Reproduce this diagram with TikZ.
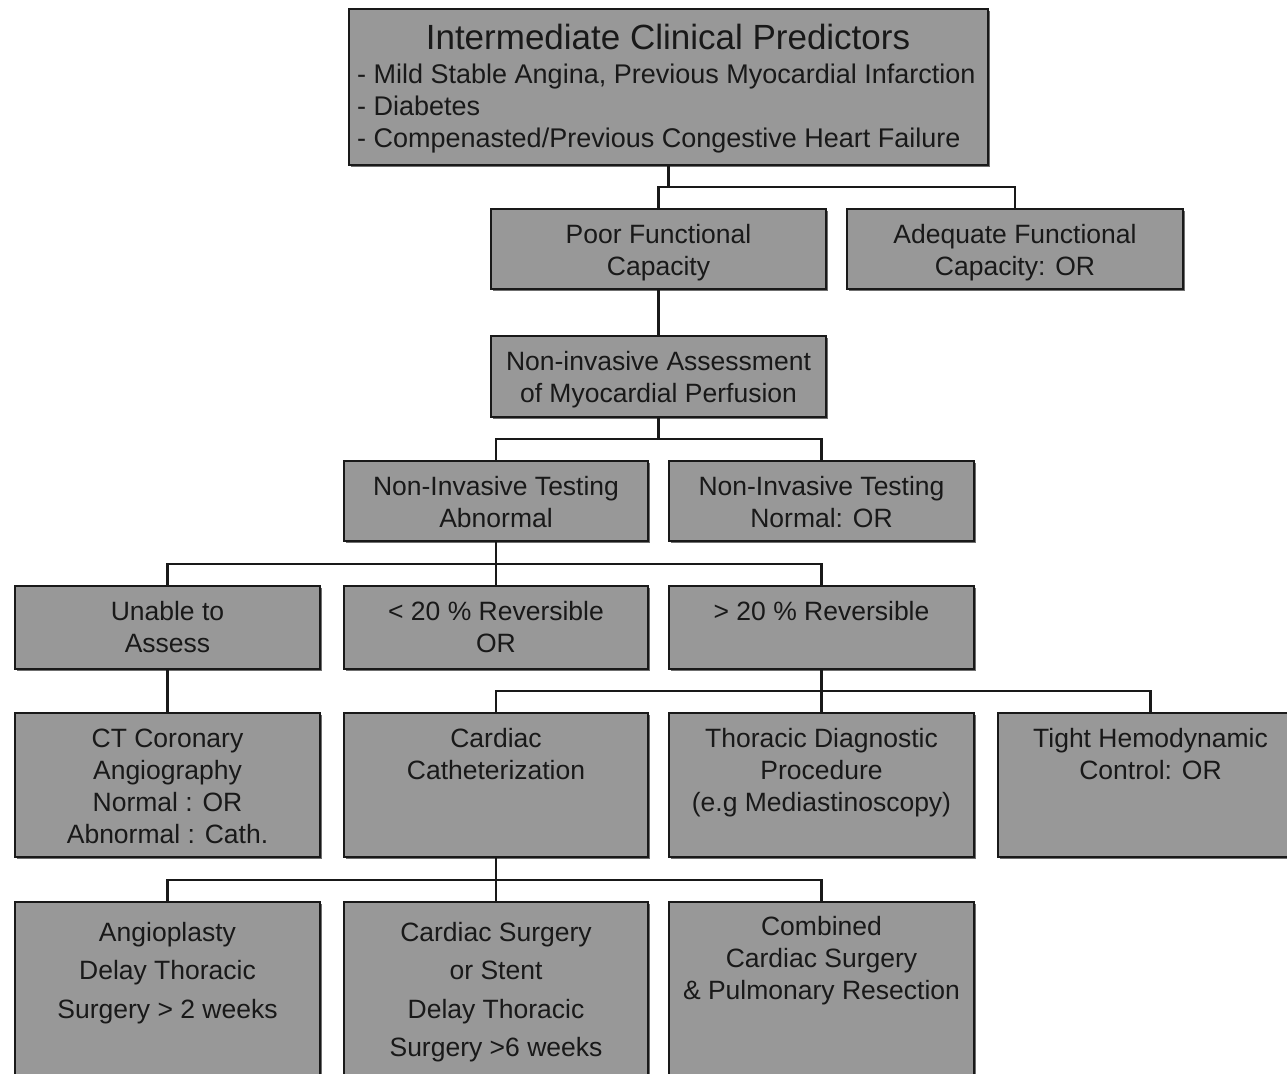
\documentclass[tikz,border=0pt]{standalone}
\usepackage{fontspec}
\setmainfont{Liberation Sans}
\usetikzlibrary{shadows}
\definecolor{boxgrey}{RGB}{152,152,152}
\definecolor{inkc}{RGB}{25,25,25}
\begin{document}
\begin{tikzpicture}[x=1pt,y=-1pt,
  box/.style={draw=inkc, line width=2pt, fill=boxgrey, inner sep=0pt, outer sep=0pt, anchor=north west,
    drop shadow={shadow xshift=2pt, shadow yshift=-2pt, fill=black!70, opacity=0.8}},
  txt/.style={anchor=north, align=center, inner sep=0pt, text=inkc,
    font=\fontsize{26.5}{32}\selectfont},
  wtxt/.style={txt, font=\fontsize{26.5}{38.5}\selectfont},
  bul/.style={anchor=base west, inner sep=0pt, text=inkc, font=\fontsize{27}{32}\selectfont},
  wire/.style={line width=2.5pt, draw=inkc}]
\clip (0,0) rectangle (1287,1073);
\fill[white] (0,0) rectangle (1287,1073);

% boxes
\node[box, minimum width=639, minimum height=156] (top) at (349,9) {};
\node[box, minimum width=335, minimum height=80] (poor) at (491,209) {};
\node[box, minimum width=336, minimum height=80] (adeq) at (847,209) {};
\node[box, minimum width=335, minimum height=81] (assess) at (491,336) {};
\node[box, minimum width=304, minimum height=80] (nitA) at (344,461) {};
\node[box, minimum width=305, minimum height=80] (nitN) at (669,461) {};
\node[box, minimum width=305, minimum height=83] (unable) at (15,586) {};
\node[box, minimum width=304, minimum height=83] (lt20) at (344,586) {};
\node[box, minimum width=305, minimum height=83] (gt20) at (669,586) {};
\node[box, minimum width=305, minimum height=144] (ct) at (15,713) {};
\node[box, minimum width=304, minimum height=144] (cath) at (344,713) {};
\node[box, minimum width=305, minimum height=144] (thor) at (669,713) {};
\node[box, minimum width=305, minimum height=144] (tight) at (998,713) {};
\node[box, minimum width=305, minimum height=190] (angio) at (15,902) {};
\node[box, minimum width=304, minimum height=190] (csurg) at (344,902) {};
\node[box, minimum width=305, minimum height=190] (comb) at (669,902) {};

% texts
\node[anchor=base, inner sep=0pt, text=inkc, font=\fontsize{35}{40}\selectfont] (ttl) at (668,50) {Intermediate Clinical Predictors};
\node[bul] (b1) at (357,83) {- Mild Stable Angina, Previous Myocardial Infarction};
\node[bul] (b2) at (357,115) {- Diabetes};
\node[bul] (b3) at (357,147) {- Compenasted/Previous Congestive Heart Failure};

\node[txt, yshift=-11.6pt] at (poor.north) {\strut Poor Functional\\Capacity};
\node[txt, yshift=-11.6pt] at (adeq.north) {\strut Adequate Functional\\Capacity: OR};
\node[txt, yshift=-11.6pt] at (assess.north) {\strut Non-invasive Assessment\\of Myocardial Perfusion};
\node[txt, yshift=-11.6pt] at (nitA.north) {\strut Non-Invasive Testing\\Abnormal};
\node[txt, yshift=-11.6pt] at (nitN.north) {\strut Non-Invasive Testing\\Normal: OR};
\node[txt, yshift=-11.6pt] at (unable.north) {\strut Unable to\\Assess};
\node[txt, yshift=-11.6pt] at (lt20.north) {\strut < 20 \% Reversible\\OR};
\node[txt, yshift=-11.6pt] at (gt20.north) {\strut > 20 \% Reversible};
\node[txt, yshift=-11.6pt] at (ct.north) {\strut CT Coronary\\Angiography\\Normal : OR\\Abnormal : Cath.};
\node[txt, yshift=-11.6pt] at (cath.north) {\strut Cardiac\\Catheterization};
\node[txt, yshift=-11.6pt] at (thor.north) {\strut Thoracic Diagnostic\\Procedure\\(e.g Mediastinoscopy)};
\node[txt, yshift=-11.6pt] at (tight.north) {\strut Tight Hemodynamic\\Control: OR};
\node[wtxt, yshift=-12pt] at (angio.north) {\strut Angioplasty\\Delay Thoracic\\Surgery > 2 weeks};
\node[wtxt, yshift=-12pt] at (csurg.north) {\strut Cardiac Surgery\\or Stent\\Delay Thoracic\\Surgery >6 weeks};
\node[txt, yshift=-10.6pt] at (comb.north) {\strut Combined\\Cardiac Surgery\\\& Pulmonary Resection};

% connectors
\coordinate (j1) at (668.5,187);
\draw[wire] (top.south) -- (j1);
\draw[wire] (j1) -| (poor.north);
\draw[wire] (j1) -| (adeq.north);
\draw[wire] (poor.south) -- (assess.north);

\coordinate (j2) at (658.5,439);
\draw[wire] (assess.south) -- (j2);
\draw[wire] (j2) -| (nitA.north);
\draw[wire] (j2) -| (nitN.north);

\coordinate (j3) at (496,564);
\draw[wire] (nitA.south) -- (j3);
\draw[wire] (j3) -| (unable.north);
\draw[wire] (j3) -- (lt20.north);
\draw[wire] (j3) -| (gt20.north);

\draw[wire] (unable.south) -- (ct.north);

\coordinate (j4) at (821.5,691);
\draw[wire] (gt20.south) -- (j4);
\draw[wire] (j4) -| (cath.north);
\draw[wire] (j4) -- (thor.north);
\draw[wire] (j4) -| (tight.north);

\coordinate (j5) at (496,880);
\draw[wire] (cath.south) -- (j5);
\draw[wire] (j5) -| (angio.north);
\draw[wire] (j5) -- (csurg.north);
\draw[wire] (j5) -| (comb.north);
\end{tikzpicture}
\end{document}
